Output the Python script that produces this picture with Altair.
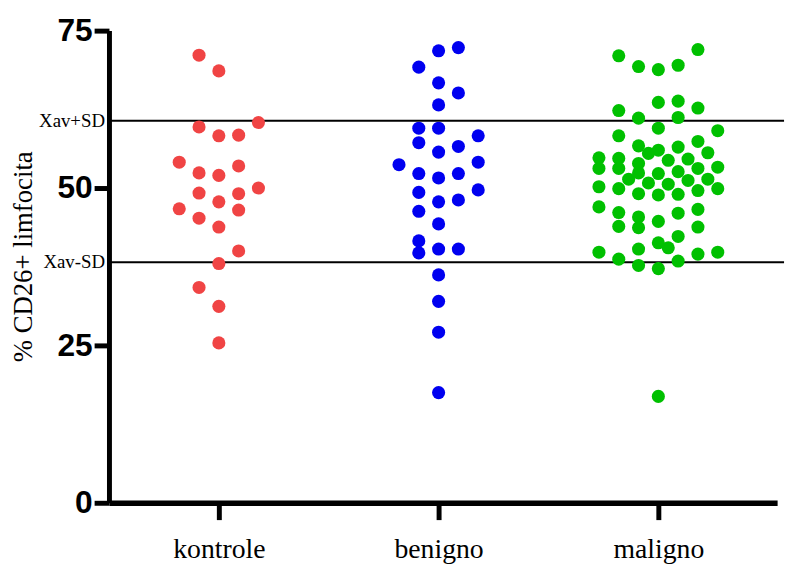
import altair as alt
import pandas as pd

# ---- data ----
groups = ["kontrole", "benigno", "maligno"]
group_colors = ["#F04444", "#0000F0", "#00C000"]

kontrole_vals = [71.1, 68.6, 59.7, 58.3, 58.4, 60.4, 54.1, 52.4, 52.0, 53.5, 49.2, 47.8,
                 49.1, 50.0, 46.7, 45.2, 46.5, 43.8, 40.0, 38.0, 34.2, 31.2, 25.4]
kontrole_cols = [-1, 0, -1, 0, 1, 2, -2, -1, 0, 1, -1, 0,
                 1, 2, -2, -1, 1, 0, 1, 0, -1, 0, 0]

benigno_vals = [71.8, 72.3, 69.2, 66.7, 65.1, 63.2, 59.5, 59.5, 58.3, 57.2, 56.6, 55.7,
                53.7, 54.1, 52.3, 51.6, 52.3, 49.3, 49.7, 47.8, 48.1, 46.3, 44.3, 41.6,
                39.7, 40.3, 40.3, 36.2, 32.0, 27.1, 17.5]
benigno_cols = [0, 1, -1, 0, 1, 0, -1, 0, 2, -1, 1, 0,
                -2, 2, -1, 0, 1, -1, 2, 0, 1, -1, 0, -1,
                -1, 0, 1, 0, 0, 0, 0]

maligno_vals = [71.0, 72.0, 69.3, 68.8, 69.5, 63.6, 63.8, 62.3, 62.7, 61.1, 61.2, 59.5,
                59.1, 58.3, 57.4, 56.7, 56.5, 55.5, 56.0, 55.6, 54.8, 54.7, 54.4, 54.6,
                53.9, 53.1, 53.1, 53.1, 53.3, 52.4, 52.3, 52.6, 51.4, 51.2, 51.4, 50.8,
                50.6, 50.2, 49.9, 49.6, 49.9, 49.1, 48.9, 49.0, 47.0, 46.1, 46.6, 46.0,
                45.4, 43.9, 43.7, 44.7, 43.8, 42.3, 41.3, 40.5, 40.3, 39.8, 39.8, 39.5,
                38.7, 37.7, 37.2, 38.4, 16.9]
maligno_cols = [-2, 2, -1, 0, 1, 0, 1, -2, 2, -1, 1, 0,
                3, -2, 2, -1, 1, -0.5, 0, 2.5, -3, -2, 0.5, 1.5,
                -1, -3, -2, 2, 3, -1, 0, 1, -1.5, 1.5, 2.5, -0.5,
                0.5, -3, -2, 2, 3, -1, 0, 1, -3, -2, 2, 1,
                -1, -2, -1, 0, 2, 1, 0, 0.5, -1, -3, 3, 2,
                -2, -1, 0, 1, 0]

sd_labels = ["Xav+SD", "Xav-SD"]
sd_values = [60.7, 38.2]

tick_values = [0, 25, 50, 75]

# ---- build tables ----
col_step = 0.0901
rows = []
for gi, (vals, cols) in enumerate([(kontrole_vals, kontrole_cols),
                                    (benigno_vals, benigno_cols),
                                    (maligno_vals, maligno_cols)]):
    for v, c in zip(vals, cols):
        rows.append({"group": groups[gi], "xpos": gi + 1 + c * col_step, "value": v})
points = pd.DataFrame(rows)
sd_df = pd.DataFrame({"label": sd_labels, "value": sd_values})

W, H = 675, 477
label_expr = " : ".join(
    [f"datum.value == {i+1} ? '{g}'" for i, g in enumerate(groups)]) + " : ''"

yscale = alt.Scale(domain=[0, 75], nice=False, zero=True)

dots = alt.Chart(points).mark_circle(size=175, opacity=1, strokeWidth=0).encode(
    x=alt.X("xpos:Q", scale=alt.Scale(domain=[0.5, 3.5405], nice=False, zero=False),
            axis=alt.Axis(values=[1, 2, 3], labelExpr=label_expr, title=None, grid=False,
                          labelFont="Liberation Serif", labelFontSize=28, labelColor="black",
                          labelPadding=16, tickSize=17, tickWidth=5, tickColor="black",
                          domainWidth=5.5, domainColor="black", labelFlush=False)),
    y=alt.Y("value:Q", scale=yscale,
            axis=alt.Axis(values=tick_values, title="% CD26+ limfocita", grid=False,
                          labelFont="Liberation Sans", labelFontSize=32, labelFontWeight="bold",
                          labelColor="black", labelPadding=2, tickSize=15, tickWidth=5,
                          tickColor="black", domainWidth=5, domainColor="black",
                          titleFont="Liberation Serif", titleFontSize=27,
                          titleFontWeight="normal", titleColor="black",
                          titleX=-86, titleY=228, titleAngle=-90,
                          titleAlign="center", titleBaseline="middle")),
    color=alt.Color("group:N", scale=alt.Scale(domain=groups, range=group_colors), legend=None),
)

rules = alt.Chart(sd_df).mark_rule(color="black", strokeWidth=2).encode(
    y=alt.Y("value:Q", scale=yscale),
    x=alt.value(0),
    x2=alt.value(682),
)

texts = alt.Chart(sd_df).mark_text(align="right", baseline="middle",
                                   font="Liberation Serif", fontSize=19, color="black").encode(
    y=alt.Y("value:Q", scale=yscale),
    x=alt.value(-4),
    text="label:N",
)

chart = alt.layer(rules, dots, texts).properties(
    width=W, height=H,
    autosize=alt.AutoSizeParams(type="none"),
    padding={"left": 102, "top": 20, "right": 12, "bottom": 60},
).configure_view(stroke=None)

chart.save("out.html", embed_options={"renderer": "svg", "actions": False})
